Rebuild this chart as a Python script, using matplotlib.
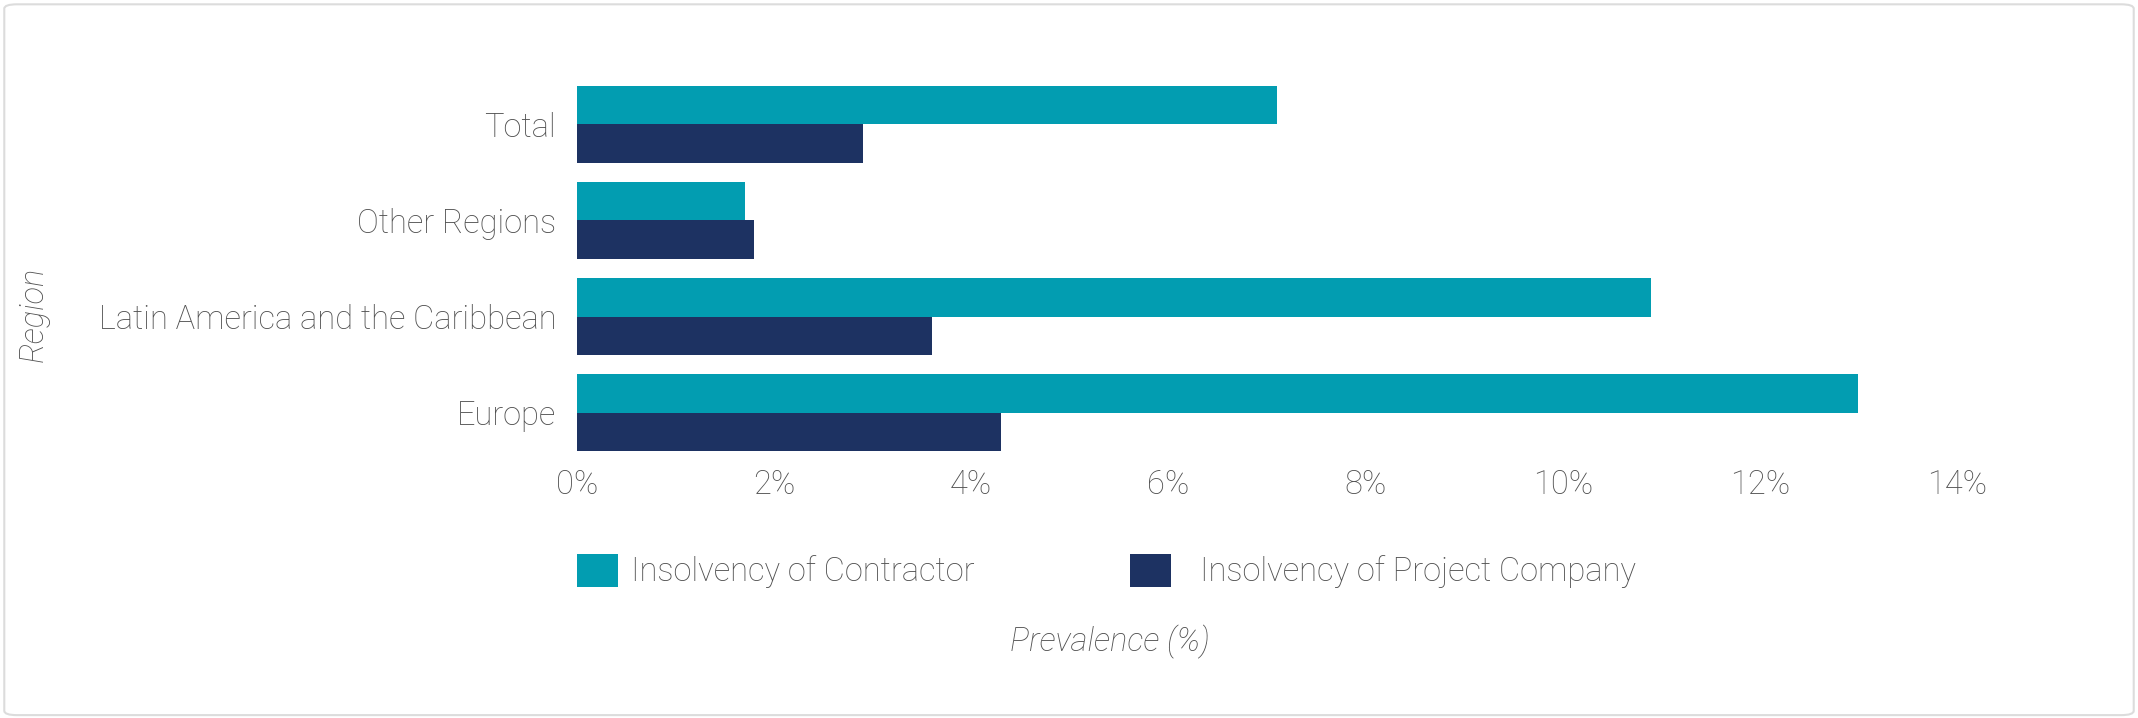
import matplotlib
matplotlib.use("Agg")
import matplotlib.pyplot as plt
import numpy as np
from matplotlib.patches import FancyBboxPatch, Patch
from matplotlib.ticker import FuncFormatter, MultipleLocator

regions = ["Total", "Other Regions", "Latin America and the Caribbean", "Europe"]
contractor = [7.1, 1.7, 10.9, 13.0]
project_company = [2.9, 1.8, 3.6, 4.3]
series_names = ["Insolvency of Contractor", "Insolvency of Project Company"]

teal = "#029db1"
navy = "#1d3262"
txt = "#505050"
fs = 23.5

plt.rcParams['font.family'] = ['Roboto', 'DejaVu Sans']
plt.rcParams['font.weight'] = 'light'

fig = plt.figure(figsize=(21.38, 7.18), dpi=100)
fig.patch.set_facecolor("white")

border = FancyBboxPatch((0.002, 0.004), 0.996, 0.99, boxstyle="round,pad=0,rounding_size=0.006",
                        transform=fig.transFigure, facecolor="white", edgecolor="#dcdcdc",
                        linewidth=1.5, zorder=-10)
fig.patches.append(border)

ax = fig.add_axes([577/2138, 1-461/718, (1957-577)/2138, (461-76)/718])
ax.set_facecolor("none")

y = np.arange(len(regions))
h = 0.4
ax.barh(y - h/2, contractor, height=h, color=teal, label=series_names[0])
ax.barh(y + h/2, project_company, height=h, color=navy, label=series_names[1])

ax.set_ylim(len(regions) - 0.5, -0.5)
ax.set_xlim(0, 14)
ax.xaxis.set_major_locator(MultipleLocator(2))
ax.xaxis.set_major_formatter(FuncFormatter(lambda v, p: f"{v:.0f}%"))
ax.set_yticks(y)
ax.set_yticklabels(regions)

for s in ax.spines.values():
    s.set_visible(False)
ax.tick_params(axis='both', length=0, labelsize=fs, labelcolor=txt)
ax.tick_params(axis='y', pad=15)
ax.tick_params(axis='x', pad=6)

fig.text(34/2138, 1-314/718, "Region", rotation=90, ha="center", va="center",
         fontsize=fs, color=txt, style="italic")
fig.text(1110/2138, 1-642/718, "Prevalence (%)", ha="center", va="center",
         fontsize=fs, color=txt, style="italic")

em = fs * 100 / 72
legend_specs = [(teal, series_names[0], 577, 13), (navy, series_names[1], 1130, 29)]
for color, name, x0, gap in legend_specs:
    leg = fig.legend([Patch(facecolor=color)], [name], loc="center left",
                     bbox_to_anchor=(x0/2138, 1-571/718), frameon=False,
                     fontsize=fs, handlelength=41/em, handleheight=38/em,
                     handletextpad=gap/em, borderpad=0, borderaxespad=0)
    for t in leg.get_texts():
        t.set_color(txt)

fig.savefig("out.png", dpi=100, facecolor="white")
